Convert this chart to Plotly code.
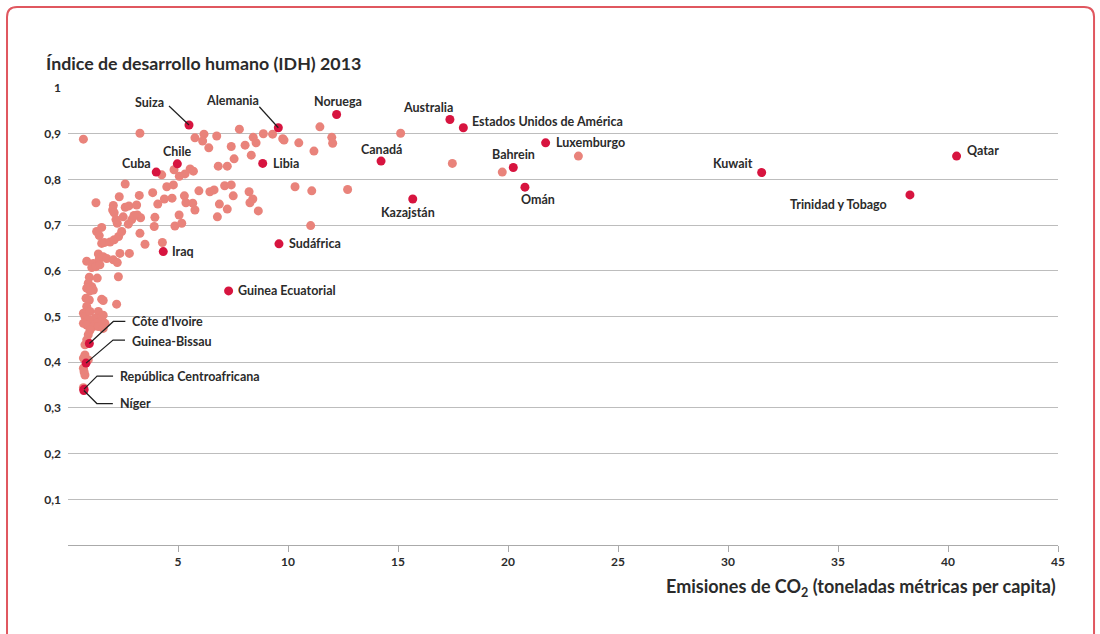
import plotly.graph_objects as go

# ---------------- data ----------------
light_x = [0.70,3.27,5.77,6.18,6.12,6.40,6.76,7.79,7.42,8.05,8.42,8.55,8.88,9.30,9.76,9.82,10.49,11.18,11.45,11.99,
           12.03,7.55,8.33,6.83,7.24,4.82,5.55,5.70,5.32,5.06,4.26,15.12,17.47,19.74,23.20,10.32,11.08,12.71,11.03,
           2.60,3.85,4.49,4.79,4.73,4.38,4.08,3.24,2.33,1.27,2.06,2.03,2.10,2.18,2.24,2.60,2.77,3.12,3.15,3.30,2.51,
           2.74,2.90,3.00,3.27,3.92,3.95,5.29,5.36,5.67,5.77,5.05,4.86,5.17,5.95,6.45,6.64,7.12,7.42,7.51,6.88,6.79,
           7.24,8.23,8.40,8.27,8.65,1.30,1.42,1.53,1.53,1.65,1.91,2.10,2.30,2.44,3.50,4.29,2.36,2.79,0.85,1.15,1.08,
           1.38,1.42,1.60,1.76,2.06,2.24,1.27,1.45,0.97,1.33,2.29,0.92,1.08,0.85,1.15,1.00,0.82,0.97,0.85,1.53,1.60,
           2.21,0.70,0.77,1.00,1.38,1.60,0.92,1.23,1.53,1.68,0.70,1.00,1.30,0.85,1.15,1.38,1.60,1.00,0.92,0.85,0.77,
           0.77,0.70,0.92,0.70,0.73,0.77,0.70]
light_y = [0.888,0.901,0.891,0.899,0.884,0.869,0.895,0.910,0.872,0.875,0.892,0.880,0.900,0.899,0.889,0.886,0.880,0.862,0.915,0.892,
           0.879,0.845,0.853,0.829,0.829,0.821,0.823,0.818,0.812,0.807,0.810,0.901,0.835,0.816,0.851,0.784,0.775,0.778,0.699,
           0.790,0.771,0.784,0.788,0.759,0.757,0.746,0.765,0.762,0.749,0.743,0.733,0.727,0.712,0.704,0.739,0.742,0.744,0.722,0.716,0.718,
           0.702,0.712,0.721,0.682,0.697,0.717,0.764,0.749,0.748,0.733,0.722,0.698,0.704,0.775,0.773,0.777,0.786,0.788,0.764,0.746,0.718,
           0.735,0.773,0.757,0.749,0.731,0.686,0.677,0.695,0.660,0.662,0.663,0.668,0.675,0.686,0.658,0.662,0.638,0.638,0.621,0.616,0.607,
           0.637,0.626,0.631,0.627,0.624,0.618,0.609,0.613,0.586,0.584,0.587,0.573,0.565,0.562,0.558,0.556,0.540,0.536,0.522,0.538,0.535,
           0.527,0.507,0.500,0.511,0.511,0.503,0.493,0.496,0.493,0.485,0.485,0.481,0.485,0.481,0.478,0.478,0.474,0.470,0.460,0.449,0.438,
           0.416,0.409,0.405,0.387,0.379,0.372,0.344]

hl_names = ["Suiza","Alemania","Noruega","Australia","Estados Unidos de América","Canadá","Luxemburgo","Bahrein",
            "Omán","Kazajstán","Libia","Sudáfrica","Kuwait","Qatar","Trinidad y Tobago","Chile","Cuba","Iraq",
            "Guinea Ecuatorial","Côte d'Ivoire","Guinea-Bissau","República Centroafricana","Níger"]
hl_x = [5.50,9.56,12.21,17.36,17.97,14.23,21.71,20.24,20.77,15.67,8.85,9.59,31.53,40.39,38.27,4.97,4.01,4.33,
        7.30,0.97,0.82,0.73,0.72]
hl_y = [0.919,0.913,0.942,0.931,0.913,0.840,0.880,0.826,0.783,0.757,0.835,0.659,0.815,0.851,0.766,0.834,0.816,0.642,
        0.556,0.441,0.398,0.341,0.338]

y_tickvals = [0.1,0.2,0.3,0.4,0.5,0.6,0.7,0.8,0.9,1.0]
y_ticktext = ["0,1","0,2","0,3","0,4","0,5","0,6","0,7","0,8","0,9","1"]
x_tickvals = [5,10,15,20,25,30,35,40,45]

title_text = "Índice de desarrollo humano (IDH) 2013"
xtitle_text = "Emisiones de CO<sub>2</sub> (toneladas métricas per capita)"

# ---------------- styling / label placement ----------------
FONT = "Lato"
LIGHT = "#e9837b"
DARK = "#d7143f"
TXT = "#2b2b2b"
GRID = "#bdbdbd"

# (xanchor, xshift, yshift) in pixels relative to the point
label_pos = {
    "Suiza": ("center", -40, 23),
    "Alemania": ("center", -46, 27),
    "Noruega": ("center", 1, 13),
    "Australia": ("center", -22, 12),
    "Estados Unidos de América": ("left", 7, 6),
    "Canadá": ("center", 0, 12),
    "Luxemburgo": ("left", 8, 0),
    "Bahrein": ("center", 0, 13),
    "Omán": ("center", 13, -12),
    "Kazajstán": ("center", -5, -13),
    "Libia": ("left", 8, 0),
    "Sudáfrica": ("left", 8, 0),
    "Kuwait": ("right", -7, 9),
    "Qatar": ("left", 8, 6),
    "Trinidad y Tobago": ("right", -21, -10),
    "Chile": ("center", 0, 12),
    "Cuba": ("right", -3, 9),
    "Iraq": ("left", 7, 0),
    "Guinea Ecuatorial": ("left", 7, 0),
    "Côte d'Ivoire": ("left", 41, 22),
    "Guinea-Bissau": ("left", 44, 22),
    "República Centroafricana": ("left", 34, 13),
    "Níger": ("left", 34, -13),
}
# leader-line paths in pixels relative to the point (y up)
leaders = {
    "Suiza": "M0,0 L-20,19",
    "Alemania": "M0,0 L-19,21",
    "Côte d'Ivoire": "M0,0 L24,22 L36,22",
    "Guinea-Bissau": "M0,0 L27,23 L39,23",
    "República Centroafricana": "M0,0 L13,13 L29,13",
    "Níger": "M0,0 L13,-13 L29,-13",
}

fig = go.Figure()
fig.add_trace(go.Scatter(x=light_x, y=light_y, mode="markers",
                         marker=dict(color=LIGHT, size=9, line=dict(width=0)),
                         cliponaxis=False, hoverinfo="skip", showlegend=False))
fig.add_trace(go.Scatter(x=hl_x, y=hl_y, mode="markers", text=hl_names,
                         marker=dict(color=DARK, size=9, line=dict(width=0)),
                         cliponaxis=False, showlegend=False))

shapes = []
for name, path in leaders.items():
    i = hl_names.index(name)
    shapes.append(dict(type="path", xref="x", yref="y", xsizemode="pixel", ysizemode="pixel",
                       xanchor=hl_x[i], yanchor=hl_y[i], path=path,
                       line=dict(color="#1f1f1f", width=1.2), layer="above"))

# rounded frame around the whole graphic
L, R, T, B = -0.0616, 1.0364, 1.1772, -0.25
rx, ry = 10/990, 10/457
frame = (f"M{L},{B} L{L},{T-ry} Q{L},{T} {L+rx},{T} L{R-rx},{T} Q{R},{T} {R},{T-ry} L{R},{B}")
shapes.append(dict(type="path", xref="paper", yref="paper", path=frame,
                   line=dict(color="#e0575f", width=2), layer="above"))

annotations = []
for name, x, y in zip(hl_names, hl_x, hl_y):
    xa, xs, ys = label_pos[name]
    annotations.append(dict(x=x, y=y, xref="x", yref="y", text=name, showarrow=False,
                            xanchor=xa, yanchor="middle", xshift=xs, yshift=ys,
                            font=dict(family=FONT, size=12.5, color=TXT, weight="bold")))
annotations.append(dict(x=-0.024, y=1.0, xref="paper", yref="paper", yshift=25, text=title_text,
                        showarrow=False, xanchor="left", yanchor="middle",
                        font=dict(family=FONT, size=17.8, color=TXT, weight="bold")))
annotations.append(dict(x=1.0, y=0.0, xref="paper", yref="paper", yshift=-42, text=xtitle_text,
                        showarrow=False, xanchor="right", yanchor="middle",
                        font=dict(family=FONT, size=18, color=TXT, weight="bold")))

fig.update_layout(
    width=1100, height=634, autosize=False,
    margin=dict(l=68, r=42, t=88, b=89, pad=0),
    paper_bgcolor="white", plot_bgcolor="white",
    shapes=shapes, annotations=annotations,
    font=dict(family=FONT, color=TXT),
    xaxis=dict(range=[0, 45], tickvals=x_tickvals, showgrid=False, zeroline=False,
               showline=True, linecolor="#aaaaaa", linewidth=1,
               ticks="outside", ticklen=6, tickcolor="#aaaaaa",
               tickfont=dict(family=FONT, size=12, color=TXT, weight="bold")),
    yaxis=dict(range=[0, 1], tickvals=y_tickvals, ticktext=y_ticktext, showgrid=True,
               gridcolor=GRID, gridwidth=1, zeroline=False, showline=False, ticks="",
               ticklabelstandoff=6,
               tickfont=dict(family=FONT, size=12, color=TXT, weight="bold")),
    hovermode="closest",
)

fig.write_html("out.html", config={"displayModeBar": False},
               post_script="document.body.style.margin='0';document.body.style.overflow='hidden';")
